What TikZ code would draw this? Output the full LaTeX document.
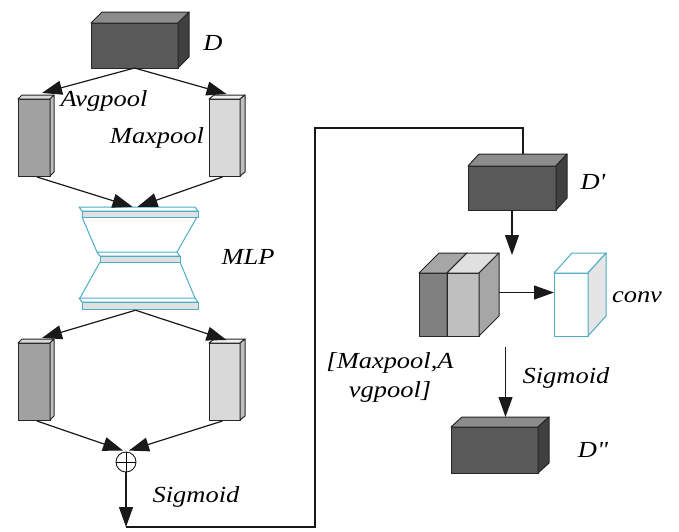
\documentclass[tikz,border=0pt]{standalone}
\usepackage{fontspec}
\usepackage{graphicx}
\setmainfont{Liberation Serif}
\usetikzlibrary{arrows.meta,calc}

\definecolor{mlpline}{RGB}{75,172,198}

% labels are set a little wider than the font's own width
\newcommand\wide[1]{\scalebox{1.15}[1]{#1}}

\tikzset{
  face/.style={draw=black!85, line width=1pt, line join=round},
  dark front/.style={fill=black!65},
  dark top/.style={fill=black!45},
  dark side/.style={fill=black!75},
  mid front/.style={fill=black!37},
  mid top/.style={fill=black!15},
  mid side/.style={fill=black!25},
  light front/.style={fill=black!15},
  light top/.style={fill=black!6},
  light side/.style={fill=black!25},
  catl front/.style={fill=black!50},
  catl top/.style={fill=black!35},
  catl side/.style={fill=black!35},
  catr front/.style={fill=black!25},
  catr top/.style={fill=black!12},
  catr side/.style={fill=black!35},
  conv front/.style={fill=white, draw=mlpline},
  conv top/.style={fill=white, draw=mlpline},
  conv side/.style={fill=black!10, draw=mlpline},
  conn/.style={line width=1.2pt, draw=black!90},
  arr/.style={conn, -{Triangle[length=20pt,width=14pt]}},
  lbl/.style={font=\itshape\fontsize{23}{29}\selectfont, inner sep=0pt},
  slabtop/.style={draw=mlpline, line width=1pt, fill=white, line join=round},
  slabfront/.style={draw=mlpline, line width=1pt, fill=black!12, line join=round},
}

% cuboid: name, centre of front face, width, height, depth x, depth y, colour set
\newcommand\cuboid[7]{%
  \node[face, #7 front, minimum width=#3, minimum height=#4, inner sep=0pt, outer sep=0pt] (#1) at (#2) {};
  \path[face, #7 top] (#1.north west) -- ++(#5,-#6) -- ($(#1.north east)+(#5,-#6)$) -- (#1.north east) -- cycle;
  \path[face, #7 side] (#1.north east) -- ++(#5,-#6) -- ($(#1.south east)+(#5,-#6)$) -- (#1.south east) -- cycle;
}

% thin plate of the MLP: left x, right x, top y, thickness
\newcommand\slab[4]{%
  \path[slabtop] (#1,#3) -- (#2,#3) -- (#2+3,#3+4) -- (#1+3,#3+4) -- cycle;
  \path[slabfront] (#1+3,#3+4) -- (#2+3,#3+4) -- (#2+3,#3+4+#4) -- (#1+3,#3+4+#4) -- cycle;
}

\begin{document}
\begin{tikzpicture}[x=1pt, y=-1pt]
\useasboundingbox (0,0) rectangle (679,531);

% ---- channel attention branch ----
\cuboid{D}{134.5,45.5}{87pt}{45pt}{11}{11}{dark}
\node[lbl] (labD) at (213,43) {\wide{D}};

\cuboid{avgA}{34,137.5}{32pt}{77pt}{4}{4}{mid}
\cuboid{maxA}{224.5,137.5}{31pt}{77pt}{5}{4}{light}
\node[lbl] (labAvg) at (104,101) {\wide{Avgpool}};
\node[lbl] (labMax) at (157,138) {\wide{Maxpool}};

% shared MLP
\node[minimum width=119pt, minimum height=102pt, inner sep=0pt] (mlp) at (138.5,258) {};
\draw[mlpline, line width=1pt] (82,217) -- (97,252) (197,217) -- (177,252);
\draw[mlpline, line width=1pt] (100,262) -- (80,298) (180,262) -- (195,298);
\slab{79}{195}{207}{6}
\slab{97}{177}{252}{6}
\slab{79}{195}{298}{7}
\node[lbl] (labMLP) at (248,257) {\wide{MLP}};

\cuboid{avgB}{34,381.5}{32pt}{77pt}{4}{4}{mid}
\cuboid{maxB}{224.5,381.5}{31pt}{77pt}{5}{4}{light}

\node[circle, draw=black!90, line width=0.9pt, minimum size=20pt, inner sep=0pt] (sum) at (126,462) {};
\draw[line width=0.9pt] (sum.north) -- (sum.south) (sum.west) -- (sum.east);

\draw[arr] (D.south) -- ($(avgA.north)+(8,-6)$);
\draw[arr] (D.south) -- ($(maxA.north)+(2,-5)$);
\draw[arr] ($(avgA.south)+(3,1)$) -- ($(mlp.north)+(-6,0)$);
\draw[arr] ($(maxA.south)+(-2,1)$) -- ($(mlp.north)+(-1,0)$);
\draw[arr] ($(mlp.south)+(-3,1)$) -- ($(avgB.north)+(8,-5)$);
\draw[arr] ($(mlp.south)+(-3,1)$) -- ($(maxB.north)+(2,-3)$);
\draw[arr] ($(avgB.south)+(3,1)$) -- ($(sum.north)+(-3,-1)$);
\draw[arr] ($(maxB.south)+(-2,1)$) -- ($(sum.north)+(3,-1)$);

\coordinate (turn) at (126,527);
\draw[arr] (sum.south) -- (turn);
\node[lbl] (labSig1) at (196,497) {\wide{Sigmoid}};

% ---- spatial attention branch ----
\cuboid{Dp}{512,188}{88pt}{44pt}{11}{12}{dark}
\node[lbl] (labDp) at (593,182) {\wide{D\textquotesingle}};

\coordinate (loop) at (315,128);
\draw[conn] (turn) -| (loop) -| ($(Dp.north)+(11,-12)$);

\cuboid{catL}{433,304.5}{28pt}{63pt}{20}{20}{catl}
\cuboid{catR}{463,304.5}{32pt}{63pt}{20}{20}{catr}
\cuboid{conv}{571,304.5}{34pt}{63pt}{18}{20}{conv}
\node[lbl] (labConv) at (637,297) {\wide{conv}};
\node[lbl, align=center] (labCat) at (390,377) {\wide{[Maxpool,A}\\\wide{vgpool]}};

\draw[arr] (Dp.south) -- ($(Dp.south)+(0,45)$);
\draw[arr] ($(catR.east)+(20,-12)$) -- ($(conv.west)+(0,-12)$);

\cuboid{Dpp}{494.5,450}{87pt}{46pt}{11}{10}{dark}
\node[lbl] (labDpp) at (593,450) {\wide{D\textquotedbl}};
\draw[arr] ($(Dpp.north)+(11,-80)$) -- ($(Dpp.north)+(11,-10)$);
\node[lbl] (labSig2) at (566,378) {\wide{Sigmoid}};
\end{tikzpicture}
\end{document}
